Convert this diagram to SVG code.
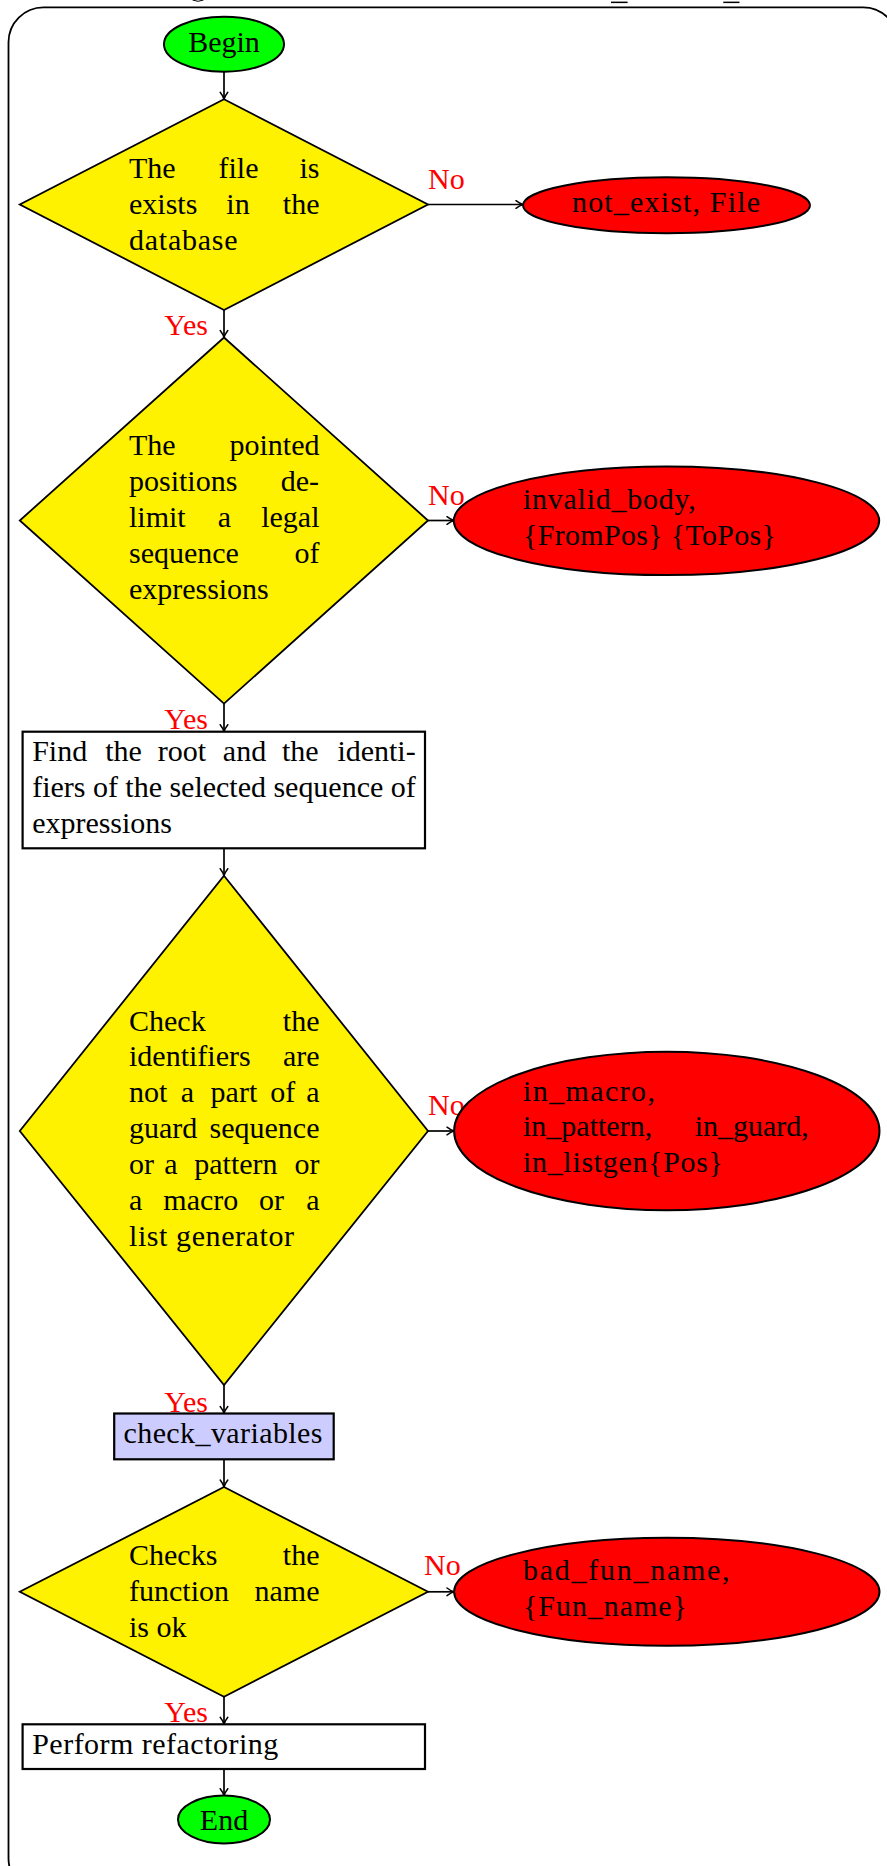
<svg xmlns="http://www.w3.org/2000/svg" width="887" height="1866" viewBox="0 0 887 1866">
  <style>
    .t { font-family: "Liberation Serif", "Times New Roman", serif; font-size: 30px; fill: #000; }
    .lbl { font-family: "Liberation Serif", "Times New Roman", serif; font-size: 30px; fill: #ff0000; }
    .e { text-anchor: end; }
    .m { text-anchor: middle; }
    .term { fill: #00ff00; stroke: #000; stroke-width: 2; }
    .dec { fill: #fff200; stroke: #000; stroke-width: 1.8; }
    .err { fill: #ff0000; stroke: #000; stroke-width: 2; }
    .proc { fill: #fff; stroke: #000; stroke-width: 2.2; }
    .sub { fill: #ccccff; stroke: #000; stroke-width: 2.2; }
    .conn { fill: none; stroke: #000; stroke-width: 1.7; marker-end: url(#arr); }
  </style>
  <defs>
    <marker id="arr" viewBox="-9 -5 10 10" refX="0" refY="0" markerWidth="10" markerHeight="10" markerUnits="userSpaceOnUse" orient="auto">
      <path d="M-7,-3.8 C-4,-1.5 -1.6,-0.4 0,0 C-1.6,0.4 -4,1.5 -7,3.8" fill="none" stroke="#000" stroke-width="1.5" stroke-linecap="round"/>
    </marker>
  </defs>

  <rect width="887" height="1866" fill="#fff"/>

  <!-- remnants of the clipped caption line above the frame -->
  <g id="caption-remnants" fill="#000">
    <path d="M192.5,0 Q198,2.6 203.5,0" fill="none" stroke="#000" stroke-width="1"/>
    <rect x="611" y="1.6" width="16.6" height="1.5"/>
    <rect x="723.3" y="1.6" width="16.2" height="1.5"/>
  </g>

  <!-- outer rounded frame -->
  <rect id="frame" x="8.5" y="7.3" width="889.5" height="1886" rx="35" ry="35" fill="none" stroke="#000" stroke-width="1.8"/>

  <!-- branch labels (drawn under the nodes) -->
  <g id="labels">
    <text class="lbl" x="428" y="189">No</text>
    <text class="lbl e" x="208" y="335">Yes</text>
    <text class="lbl" x="428" y="505">No</text>
    <text class="lbl e" x="208" y="729">Yes</text>
    <text class="lbl" x="428" y="1115">No</text>
    <text class="lbl e" x="208" y="1412">Yes</text>
    <text class="lbl" x="424" y="1575">No</text>
    <text class="lbl e" x="208" y="1721.5">Yes</text>
  </g>

  <g id="connectors">
    <line class="conn" x1="224" y1="71.5" x2="224" y2="99.3"/>
    <line class="conn" x1="428" y1="204.5" x2="523" y2="204.5"/>
    <line class="conn" x1="224" y1="310" x2="224" y2="337.5"/>
    <line class="conn" x1="428" y1="520.5" x2="454" y2="520.5"/>
    <line class="conn" x1="224" y1="703.6" x2="224" y2="731.7"/>
    <line class="conn" x1="224" y1="848.3" x2="224" y2="875.7"/>
    <line class="conn" x1="428" y1="1131" x2="454" y2="1131"/>
    <line class="conn" x1="224" y1="1385" x2="224" y2="1413.5"/>
    <line class="conn" x1="224" y1="1459.3" x2="224" y2="1487"/>
    <line class="conn" x1="428" y1="1591.8" x2="454" y2="1591.8"/>
    <line class="conn" x1="224" y1="1696.7" x2="224" y2="1724.3"/>
    <line class="conn" x1="224" y1="1769" x2="224" y2="1795.7"/>
  </g>

  <g id="begin">
    <ellipse class="term" cx="224" cy="44.2" rx="60" ry="27.5"/>
    <text class="t m" x="224" y="52">Begin</text>
  </g>

  <g id="file-exists">
    <polygon class="dec" points="224,99.3 428,204.5 224,310 19.8,204.5"/>
    <text class="t" x="129" y="178.3">The</text>
    <text class="t m" x="238.5" y="178.3">file</text>
    <text class="t e" x="319.5" y="178.3">is</text>
    <text class="t" x="129" y="214">exists</text>
    <text class="t m" x="238" y="214">in</text>
    <text class="t e" x="319.5" y="214">the</text>
    <text class="t" x="129" y="249.7" textLength="108.5" lengthAdjust="spacing">database</text>
  </g>

  <g id="not-exist">
    <ellipse class="err" cx="666.5" cy="205.3" rx="143.5" ry="28"/>
    <text class="t" x="572" y="212" textLength="188" lengthAdjust="spacing">not_exist, File</text>
  </g>

  <g id="legal-sequence">
    <polygon class="dec" points="224,337.5 428,520.5 224,703.6 19.8,520.5"/>
    <text class="t" x="129" y="455.3">The</text>
    <text class="t e" x="319.5" y="455.3">pointed</text>
    <text class="t" x="129" y="491.1">positions</text>
    <text class="t e" x="319" y="491.1">de-</text>
    <text class="t" x="129" y="526.9">limit</text>
    <text class="t m" x="224.5" y="526.9">a</text>
    <text class="t e" x="319.5" y="526.9">legal</text>
    <text class="t" x="129" y="562.7">sequence</text>
    <text class="t e" x="319.5" y="562.7">of</text>
    <text class="t" x="129" y="598.5" textLength="139.7" lengthAdjust="spacing">expressions</text>
  </g>

  <g id="invalid-body">
    <ellipse class="err" cx="666.5" cy="520.8" rx="212.7" ry="54.3"/>
    <text class="t" x="523" y="509" textLength="172.7" lengthAdjust="spacing">invalid_body,</text>
    <text class="t" x="523" y="544.7" textLength="253" lengthAdjust="spacing">{FromPos} {ToPos}</text>
  </g>

  <g id="find-root">
    <rect class="proc" x="22.6" y="731.7" width="402.4" height="116.6"/>
    <text class="t" x="32.2" y="761">Find</text>
    <text class="t m" x="123.5" y="761">the</text>
    <text class="t m" x="182" y="761">root</text>
    <text class="t m" x="244.5" y="761">and</text>
    <text class="t m" x="300.3" y="761">the</text>
    <text class="t e" x="415.7" y="761">identi-</text>
    <text class="t" x="32.2" y="796.8" textLength="383.5" lengthAdjust="spacing">fiers of the selected sequence of</text>
    <text class="t" x="32.2" y="832.6" textLength="139.7" lengthAdjust="spacing">expressions</text>
  </g>

  <g id="check-identifiers">
    <polygon class="dec" points="224,875.7 428,1131 224,1385 19.8,1131"/>
    <text class="t" x="129" y="1030.5">Check</text>
    <text class="t e" x="319.5" y="1030.5">the</text>
    <text class="t" x="129" y="1066.4">identifiers</text>
    <text class="t e" x="319.5" y="1066.4">are</text>
    <text class="t" x="129" y="1102.3">not</text>
    <text class="t m" x="187.5" y="1102.3">a</text>
    <text class="t m" x="233.9" y="1102.3">part</text>
    <text class="t m" x="282.8" y="1102.3">of</text>
    <text class="t e" x="319.5" y="1102.3">a</text>
    <text class="t" x="129" y="1138.2">guard</text>
    <text class="t e" x="319.5" y="1138.2">sequence</text>
    <text class="t" x="129" y="1174.1">or</text>
    <text class="t m" x="171" y="1174.1">a</text>
    <text class="t m" x="235.9" y="1174.1">pattern</text>
    <text class="t e" x="319.5" y="1174.1">or</text>
    <text class="t" x="129" y="1210">a</text>
    <text class="t m" x="200.8" y="1210">macro</text>
    <text class="t m" x="271.5" y="1210">or</text>
    <text class="t e" x="319.5" y="1210">a</text>
    <text class="t" x="129" y="1245.9" textLength="165" lengthAdjust="spacing">list generator</text>
  </g>

  <g id="in-macro">
    <ellipse class="err" cx="666.8" cy="1131" rx="212.7" ry="79.2"/>
    <text class="t" x="523" y="1100.5" textLength="132" lengthAdjust="spacing">in_macro,</text>
    <text class="t" x="523" y="1136.3">in_pattern,</text>
    <text class="t e" x="808.8" y="1136.3">in_guard,</text>
    <text class="t" x="523" y="1172.1" textLength="200" lengthAdjust="spacing">in_listgen{Pos}</text>
  </g>

  <g id="check-variables">
    <rect class="sub" x="114.2" y="1413.5" width="219.5" height="45.8"/>
    <text class="t" x="123.5" y="1443" textLength="199" lengthAdjust="spacing">check_variables</text>
  </g>

  <g id="function-name">
    <polygon class="dec" points="224,1487 428,1591.8 224,1696.7 19.8,1591.8"/>
    <text class="t" x="129" y="1565">Checks</text>
    <text class="t e" x="319.5" y="1565">the</text>
    <text class="t" x="129" y="1601">function</text>
    <text class="t e" x="319.5" y="1601">name</text>
    <text class="t" x="129" y="1637">is ok</text>
  </g>

  <g id="bad-fun-name">
    <ellipse class="err" cx="666.8" cy="1591.8" rx="212.7" ry="54"/>
    <text class="t" x="523" y="1580" textLength="206.6" lengthAdjust="spacing">bad_fun_name,</text>
    <text class="t" x="523" y="1615.7" textLength="164" lengthAdjust="spacing">{Fun_name}</text>
  </g>

  <g id="perform-refactoring">
    <rect class="proc" x="22.6" y="1724.3" width="402.4" height="44.7"/>
    <text class="t" x="32.2" y="1754.3" textLength="246" lengthAdjust="spacing">Perform refactoring</text>
  </g>

  <g id="end">
    <ellipse class="term" cx="224" cy="1819.5" rx="46" ry="24"/>
    <text class="t m" x="224" y="1830">End</text>
  </g>
</svg>
